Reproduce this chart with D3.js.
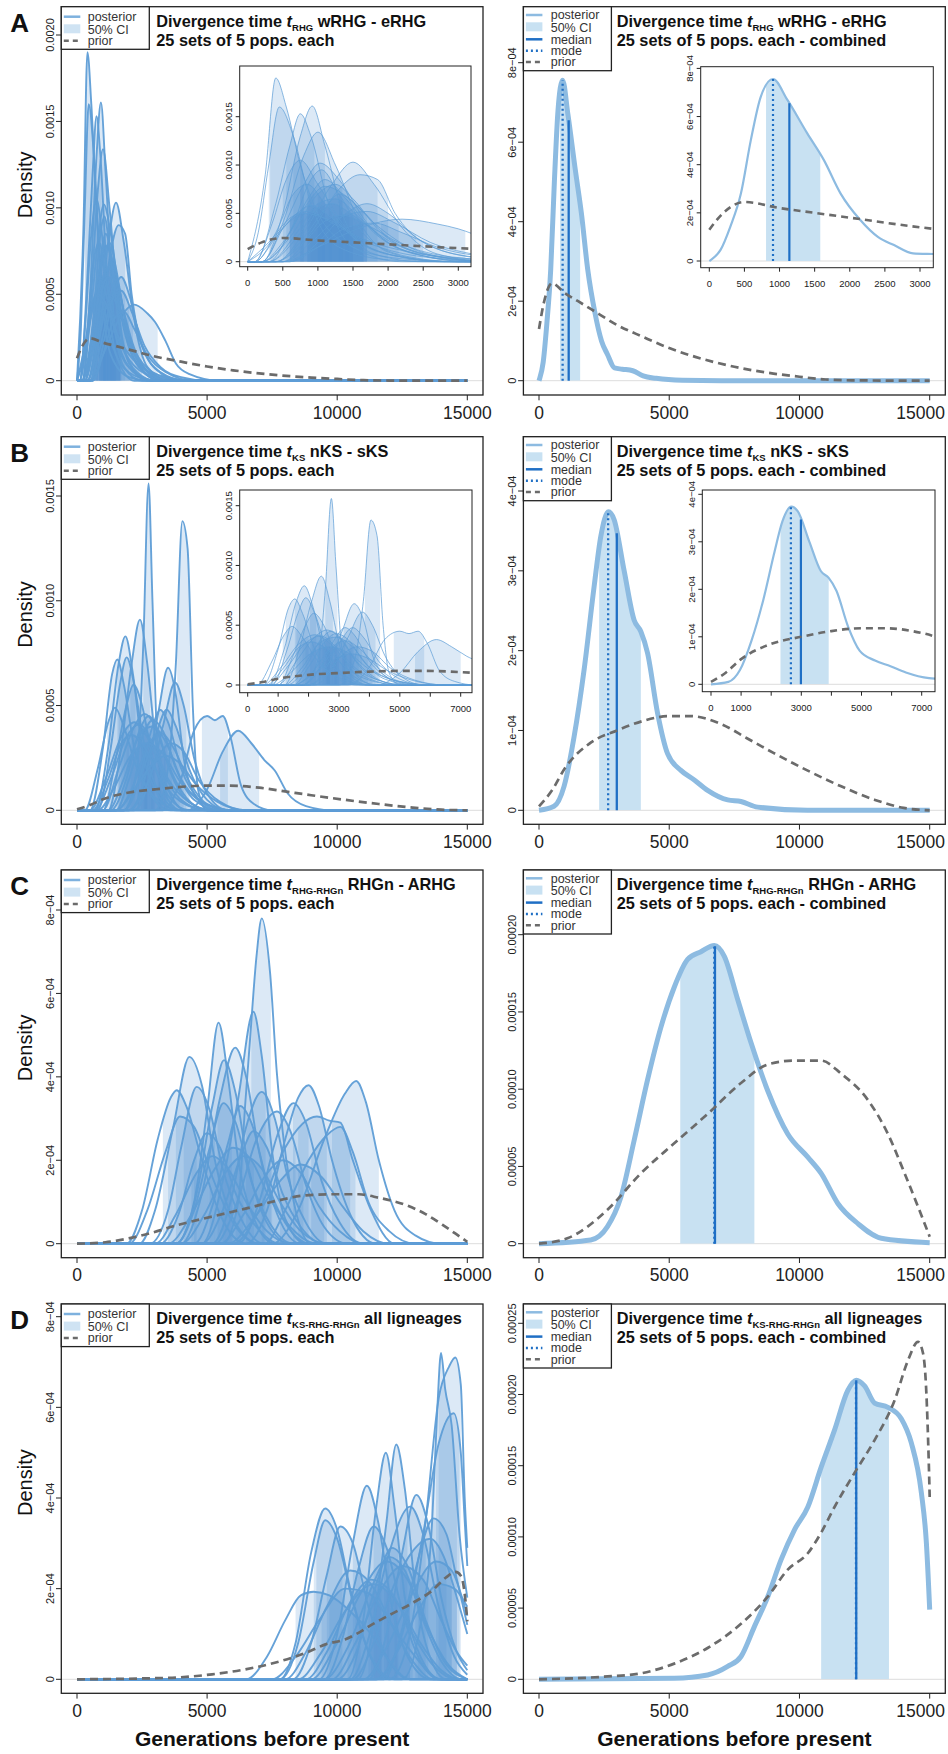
<!DOCTYPE html>
<html>
<head>
<meta charset="utf-8">
<script src="https://cdn.jsdelivr.net/npm/d3@7"></script>
<style>
body { margin: 0; background: #fff; }
text { font-family: 'Liberation Sans', Arial, Helvetica, sans-serif; }
</style>
</head>
<body>
<div id="svg"></div>
<script>
// all densities below are in units of 1e-4, x in generations before present
var xTicks = [0, 5000, 10000, 15000];

// 25 posterior curves per set: knots [x, density] and 50% CI [lo, hi]
var postA = [
  {k:[[0,0],[250,9],[400,19],[550,16],[750,10],[1000,5],[1500,1.5],[2200,0.3],[3000,0]], ci:[300,800]},
  {k:[[0,0],[150,3],[300,10],[450,16],[650,13],[900,6],[1300,1.5],[2000,0.2],[2800,0]], ci:[320,800]},
  {k:[[200,0],[500,5],[750,13],[920,16.1],[1100,12],[1400,4],[1800,0.8],[2500,0]], ci:[650,1100]},
  {k:[[100,0],[400,6],[600,12],[750,15.3],[900,13],[1150,6],[1500,1.5],[2200,0]], ci:[550,950]},
  {k:[[200,0],[500,4],[800,11],[1000,13.4],[1250,10],[1600,4],[2000,1],[2800,0]], ci:[750,1350]},
  {k:[[400,0],[800,3],[1200,8],[1500,10.3],[1800,8],[2200,3.5],[2700,0.8],[3500,0]], ci:[1150,1850]},
  {k:[[100,0],[350,4],[550,8.5],[750,10.5],[1000,8],[1400,3.5],[1900,1],[2800,0]], ci:[500,1100]},
  {k:[[200,0],[500,3.5],[800,8],[1030,10.2],[1300,8.5],[1700,4],[2300,1],[3200,0]], ci:[750,1450]},
  {k:[[500,0],[1000,1.5],[1600,3.5],[2200,4.4],[2700,3.9],[3000,3.4],[3400,2.3],[3800,1],[4300,0.4],[5500,0]], ci:[1900,3100]},
  {k:[[500,0],[900,3],[1300,7.5],[1600,9],[1850,8.5],[2100,5],[2500,2],[3200,0.5],[4200,0]], ci:[1300,2000]},
  {k:[[300,0],[600,3],[900,7],[1100,8.5],[1400,6.5],[1800,3],[2400,0.8],[3200,0]], ci:[850,1500]},
  {k:[[200,0],[500,2],[800,5.5],[1100,7.8],[1400,6.8],[1800,4],[2300,1.5],[3000,0.3],[4000,0]], ci:[850,1650]},
  {k:[[400,0],[800,2.5],[1100,5.5],[1300,7],[1600,5.5],[2000,2.5],[2600,0.7],[3500,0]], ci:[1050,1700]},
  {k:[[300,0],[700,3],[1000,6],[1250,6.5],[1600,4.5],[2100,1.5],[2800,0.3],[3600,0]], ci:[900,1700]},
  {k:[[100,0],[400,2.5],[700,5],[900,5.8],[1200,4.5],[1600,2],[2200,0.5],[3000,0]], ci:[600,1300]},
  {k:[[600,0],[1000,2],[1400,5],[1700,6],[2000,5],[2400,2.5],[3000,0.7],[4000,0]], ci:[1350,2150]},
  {k:[[0,0],[300,2],[600,4.5],[850,5.2],[1200,4],[1700,2],[2400,0.6],[3500,0]], ci:[600,1500]},
  {k:[[400,0],[800,2],[1100,4.2],[1350,4.8],[1700,3.8],[2200,1.8],[2900,0.5],[4000,0]], ci:[1000,1900]},
  {k:[[200,0],[600,2.5],[1000,7],[1250,8],[1500,6.5],[1900,3],[2500,0.8],[3500,0]], ci:[1000,1650]},
  {k:[[500,0],[900,2],[1300,4.5],[1700,5.2],[2100,4],[2600,2],[3200,0.8],[4000,0.2],[5000,0]], ci:[1300,2400]},
  {k:[[100,0],[400,3],[650,7],[850,8],[1100,6],[1500,2.5],[2100,0.6],[3000,0]], ci:[600,1200]},
  {k:[[300,0],[700,2.5],[1000,5.5],[1200,6],[1500,4.8],[2000,2.2],[2700,0.5],[3600,0]], ci:[950,1650]},
  {k:[[0,0],[200,1],[500,3.5],[800,5],[1100,4.5],[1600,2.5],[2300,1],[3200,0.3],[4500,0]], ci:[600,1700]},
  {k:[[600,0],[1000,1.5],[1400,3.5],[1800,4],[2200,3],[2700,1.5],[3400,0.5],[4500,0]], ci:[1400,2500]},
  {k:[[200,0],[600,3],[900,8.5],[1050,9.5],[1300,7],[1700,2.5],[2300,0.5],[3000,0]], ci:[850,1350]}
];

var postB = [
  {k:[[1800,0],[2300,2],[2550,8],[2750,15.6],[2900,10],[3100,3],[3500,0.5],[4000,0]], ci:[2550,2950]},
  {k:[[3000,0],[3500,2],[3800,7],[4050,13.8],[4250,12.5],[4450,5],[4650,1],[5000,0]], ci:[3850,4350]},
  {k:[[1200,0],[1700,3],[2100,7],[2420,9.1],[2700,7],[3000,3.5],[3500,1],[4200,0]], ci:[2050,2800]},
  {k:[[700,0],[1200,3],[1600,7],[1860,8.3],[2150,6.5],[2500,3],[3000,1],[3800,0]], ci:[1550,2250]},
  {k:[[500,0],[1000,3],[1350,6.5],[1550,7.2],[1800,6],[2200,3],[2800,0.8],[3600,0]], ci:[1250,2000]},
  {k:[[800,0],[1300,3],[1650,6],[1910,7.3],[2200,6],[2600,3],[3100,1],[4000,0]], ci:[1600,2400]},
  {k:[[1000,0],[1500,2.5],[1900,5],[2170,6],[2500,5],[2900,2.5],[3500,0.7],[4300,0]], ci:[1800,2700]},
  {k:[[2000,0],[2600,1.5],[3100,4.5],[3500,6.8],[3800,5.5],[4100,2.5],[4600,0.6],[5200,0]], ci:[3150,3850]},
  {k:[[2200,0],[2800,1.5],[3300,4],[3770,6.1],[4100,5],[4500,2.5],[5000,0.8],[5800,0]], ci:[3350,4200]},
  {k:[[300,0],[800,2],[1200,4.2],[1460,4.9],[1800,4],[2300,2],[3000,0.6],[4000,0]], ci:[1150,2100]},
  {k:[[1800,0],[2400,1.5],[3000,3.5],[3450,4.8],[3800,4],[4300,2],[5000,0.5],[5800,0]], ci:[2900,3950]},
  {k:[[3300,0],[4000,1.5],[4500,3.8],[5000,4.5],[5300,4.3],[5600,4.5],[5900,3.5],[6300,1.2],[6800,0.3],[7500,0]], ci:[4800,5800]},
  {k:[[4200,0],[5000,1],[5600,2.8],[6200,3.8],[6700,3.2],[7200,2.4],[7600,1.9],[8100,0.8],[8800,0.2],[9800,0]], ci:[5500,7000]},
  {k:[[1000,0],[1600,2],[2200,4],[2600,4.6],[3000,4],[3500,2.2],[4200,0.6],[5000,0]], ci:[2100,3200]},
  {k:[[1500,0],[2000,1.5],[2500,3.5],[2900,4.3],[3300,3.8],[3800,2],[4500,0.5],[5500,0]], ci:[2450,3450]},
  {k:[[500,0],[1100,1.5],[1700,3.5],[2200,4.2],[2700,3.5],[3300,1.8],[4000,0.5],[5000,0]], ci:[1700,2900]},
  {k:[[1200,0],[1800,1.5],[2400,3.6],[2900,4],[3400,3.3],[4000,1.5],[4800,0.4],[5800,0]], ci:[2300,3500]},
  {k:[[1500,0],[2100,1],[2700,3],[3200,3.7],[3700,3],[4300,1.4],[5000,0.3],[6000,0]], ci:[2600,3750]},
  {k:[[700,0],[1300,1.5],[1900,3.5],[2400,4.1],[2900,3.2],[3500,1.5],[4300,0.4],[5200,0]], ci:[1900,3000]},
  {k:[[2000,0],[2600,1],[3100,2.5],[3600,3.2],[4100,2.8],[4700,1.4],[5500,0.4],[6500,0]], ci:[3100,4300]},
  {k:[[1300,0],[1900,1.5],[2400,3.8],[2750,4.5],[3100,3.8],[3600,1.8],[4300,0.4],[5200,0]], ci:[2350,3250]},
  {k:[[800,0],[1400,1],[2000,2.5],[2700,3.2],[3300,2.7],[4000,1.3],[4800,0.4],[6000,0]], ci:[2000,3400]},
  {k:[[1800,0],[2400,1.5],[2900,4],[3200,4.8],[3500,4.2],[4000,2],[4700,0.5],[5500,0]], ci:[2850,3650]},
  {k:[[1500,0],[2200,1],[2900,2.2],[3400,2.6],[3900,2.3],[4600,1.2],[5400,0.4],[6500,0]], ci:[2800,4100]},
  {k:[[600,0],[1200,1.5],[1700,3.2],[2100,3.6],[2600,3],[3200,1.5],[4000,0.4],[5000,0]], ci:[1600,2700]}
];

var postC = [
  {k:[[5600,0],[6200,1],[6460,3.3],[6650,4.9],[6900,6.9],[7100,7.8],[7420,6.5],[7680,4.1],[7940,2.5],[8400,0.8],[9000,0]], ci:[6700,7450]},
  {k:[[4800,0],[5600,1.5],[6200,3.5],[6780,5.56],[7100,4.5],[7500,2.2],[8000,0.6],[8800,0]], ci:[6200,7250]},
  {k:[[3800,0],[4500,1],[5000,3.2],[5440,5.3],[5800,4],[6200,2],[6800,0.6],[7600,0]], ci:[5000,5950]},
  {k:[[4000,0],[4800,1.2],[5500,3.5],[6080,4.7],[6500,4],[7000,2.2],[7700,0.7],[8600,0]], ci:[5400,6700]},
  {k:[[2400,0],[3000,0.8],[3700,2.8],[4320,4.48],[4800,3.8],[5300,2],[6000,0.6],[7000,0]], ci:[3800,5000]},
  {k:[[3800,0],[4600,1.2],[5200,3.3],[5650,4.4],[6100,3.6],[6600,1.8],[7300,0.5],[8200,0]], ci:[5100,6200]},
  {k:[[7500,0],[8500,0.8],[9500,2.5],[10300,3.6],[10730,3.9],[11100,3.4],[11600,2],[12200,0.8],[13000,0.2],[14000,0]], ci:[9800,11600]},
  {k:[[6500,0],[7300,0.8],[8000,2.5],[8500,3.5],[8900,3.8],[9300,3.3],[9800,2],[10500,0.7],[11500,0]], ci:[8300,9600]},
  {k:[[1900,0],[2500,0.8],[3100,2.5],[3600,3.5],[3830,3.68],[4200,3.3],[4800,2],[5500,0.7],[6500,0]], ci:[3300,4600]},
  {k:[[2800,0],[3500,0.8],[4000,2.3],[4600,3.76],[5100,3.2],[5600,1.8],[6300,0.6],[7200,0]], ci:[4100,5300]},
  {k:[[5200,0],[5900,1],[6500,2.8],[7100,3.64],[7600,3],[8100,1.6],[8800,0.5],[9600,0]], ci:[6500,7700]},
  {k:[[6200,0],[7000,1],[7700,2.6],[8320,3.37],[8800,2.9],[9400,1.5],[10100,0.5],[11000,0]], ci:[7700,8900]},
  {k:[[6000,0],[7000,0.8],[8000,2.3],[9220,3.05],[9700,2.95],[10120,2.9],[10600,2],[11300,0.8],[12200,0]], ci:[8500,10500]},
  {k:[[2000,0],[2700,0.8],[3400,2.2],[3960,3.05],[4500,2.8],[5200,1.6],[6000,0.5],[7000,0]], ci:[3500,5000]},
  {k:[[3800,0],[4500,0.8],[5100,2.3],[5630,3.37],[6100,2.9],[6700,1.5],[7400,0.5],[8300,0]], ci:[5000,6400]},
  {k:[[5300,0],[6100,0.9],[6900,2.5],[7680,3.17],[8200,2.7],[8800,1.4],[9500,0.4],[10400,0]], ci:[7000,8400]},
  {k:[[4500,0],[5200,0.9],[5800,2.4],[6270,3.3],[6700,2.9],[7300,1.5],[8000,0.5],[9000,0]], ci:[5700,7000]},
  {k:[[3200,0],[3900,0.7],[4500,2],[4990,2.65],[5500,2.3],[6100,1.2],[6900,0.4],[7800,0]], ci:[4400,5700]},
  {k:[[4800,0],[5600,0.8],[6300,2.1],[6780,2.7],[7300,2.3],[7900,1.2],[8600,0.4],[9500,0]], ci:[6100,7500]},
  {k:[[7200,0],[8000,0.8],[8900,2],[9600,2.6],[10120,2.8],[10600,2.2],[11200,1],[12000,0.3],[13000,0]], ci:[9000,10700]},
  {k:[[4000,0],[4900,0.7],[5700,1.7],[6400,2.1],[7100,1.8],[7800,1],[8600,0.3],[9600,0]], ci:[5600,7200]},
  {k:[[5500,0],[6400,0.7],[7200,1.6],[7900,2.0],[8600,1.7],[9300,0.9],[10100,0.3],[11000,0]], ci:[7100,8700]},
  {k:[[3000,0],[3800,0.7],[4600,1.7],[5200,2.1],[5800,1.8],[6500,1],[7300,0.3],[8200,0]], ci:[4500,6000]},
  {k:[[5800,0],[6800,0.6],[7800,1.5],[8600,1.9],[9400,1.6],[10200,0.9],[11000,0.3],[12000,0]], ci:[7800,9500]},
  {k:[[3500,0],[4400,0.7],[5300,1.8],[6000,2.3],[6700,2],[7400,1.1],[8200,0.4],[9200,0]], ci:[5300,6800]}
];

var postD = [
  {k:[[12500,0],[13200,1.2],[13650,3.5],[13850,6],[13990,7.2],[14150,6.4],[14400,5.6],[14700,3.2],[15000,1.8]], ci:[13800,14600]},
  {k:[[12000,0],[12800,1],[13400,3.5],[13900,6.2],[14300,6.9],[14540,7.1],[14750,6.5],[14900,4],[15000,2.9]], ci:[13900,14750]},
  {k:[[11500,0],[12500,1],[13300,3.2],[13900,5.2],[14480,5.87],[14750,5],[14900,3.5],[15000,2.5]], ci:[13600,14700]},
  {k:[[10800,0],[11400,1.2],[11900,3.5],[12270,5.18],[12600,4.2],[13000,2],[13500,0.6],[14200,0]], ci:[11800,12700]},
  {k:[[10400,0],[11000,1.3],[11500,3.8],[11870,5.0],[12200,3.8],[12600,1.8],[13200,0.5],[14000,0]], ci:[11400,12350]},
  {k:[[9300,0],[10000,1],[10600,3],[11140,4.27],[11600,3.4],[12100,1.6],[12800,0.4],[13600,0]], ci:[10600,11700]},
  {k:[[11200,0],[11900,1],[12500,2.8],[13040,4.07],[13500,3.4],[14000,1.8],[14600,0.6],[15000,0.2]], ci:[12400,13600]},
  {k:[[7800,0],[8400,0.8],[9000,2.8],[9540,3.77],[10000,3.3],[10500,2],[11200,0.6],[12000,0]], ci:[9100,10200]},
  {k:[[7800,0],[8500,0.8],[9100,2.6],[9540,3.51],[10000,3.1],[10600,1.7],[11300,0.5],[12200,0]], ci:[9200,10300]},
  {k:[[8300,0],[9000,0.8],[9600,2.3],[10120,3.37],[10600,3],[11200,1.6],[11900,0.5],[12800,0]], ci:[9600,10900]},
  {k:[[10500,0],[11200,0.9],[11900,2.6],[12810,3.81],[13300,3.2],[13900,1.6],[14500,0.5],[15000,0.1]], ci:[11900,13400]},
  {k:[[9500,0],[10200,0.9],[10800,2.4],[11400,3.37],[11900,2.9],[12500,1.5],[13200,0.4],[14000,0]], ci:[10700,12000]},
  {k:[[11800,0],[12400,0.9],[13000,2.4],[13700,3.55],[14200,3.2],[14600,2.2],[15000,1.2]], ci:[13000,14400]},
  {k:[[6500,0],[7300,0.5],[8000,1.3],[8600,1.85],[9090,1.93],[9700,1.85],[10500,1.5],[11300,1.0],[12000,0.4],[12800,0]], ci:[8400,10900]},
  {k:[[8500,0],[9400,0.6],[10300,1.5],[11400,2.1],[12300,1.7],[13200,0.8],[14000,0.2],[14800,0]], ci:[10300,12400]},
  {k:[[9000,0],[9900,0.7],[10900,1.9],[11900,2.6],[12700,2.2],[13500,1.1],[14300,0.3],[15000,0]], ci:[10900,12800]},
  {k:[[10600,0],[11400,0.8],[12200,2.1],[13580,3.1],[14100,2.7],[14600,1.8],[15000,1.0]], ci:[12200,14200]},
  {k:[[8000,0],[8800,0.6],[9600,1.6],[10500,2.4],[11300,2.1],[12100,1.2],[12900,0.4],[13700,0]], ci:[9700,11500]},
  {k:[[9800,0],[10700,0.8],[11600,1.9],[12500,2.5],[13300,2.2],[14000,1.3],[14600,0.6],[15000,0.3]], ci:[11500,13500]},
  {k:[[7500,0],[8400,0.5],[9300,1.3],[10300,2.0],[11200,1.9],[12100,1.2],[13000,0.5],[13900,0]], ci:[9400,11700]},
  {k:[[11000,0],[11900,0.7],[12800,1.8],[13800,2.6],[14400,2.4],[14800,1.8],[15000,1.4]], ci:[12700,14400]},
  {k:[[10000,0],[10800,0.7],[11500,2.1],[12100,2.9],[12700,2.5],[13400,1.3],[14100,0.4],[15000,0]], ci:[11300,12900]},
  {k:[[8800,0],[9600,0.6],[10500,1.7],[11300,2.2],[12100,1.9],[12900,1.0],[13700,0.3],[14600,0]], ci:[10400,12300]},
  {k:[[11500,0],[12300,0.6],[13100,1.5],[13900,2.1],[14500,2.0],[15000,1.6]], ci:[13100,14600]},
  {k:[[9500,0],[10400,0.7],[11300,2.0],[12000,2.7],[12600,2.4],[13300,1.3],[14000,0.4],[14800,0]], ci:[11200,12800]}
];

// priors
var priorA = [[0,1.3],[200,2.0],[500,2.45],[1000,2.2],[1500,2.0],[2000,1.8],[3000,1.4],[4000,1.1],[5000,0.82],[6000,0.6],[7500,0.35],[9000,0.18],[10000,0.1],[11000,0.03],[12000,0.01],[15000,0]];
var priorB = [[0,0.05],[500,0.25],[1000,0.53],[2000,0.85],[3000,1.0],[4000,1.12],[5000,1.18],[5800,1.18],[7000,1.08],[8000,0.9],[9000,0.72],[10300,0.5],[11600,0.3],[12900,0.13],[14000,0.03],[15000,0]];
var priorC = [[0,0],[1090,0.035],[2628,0.22],[3910,0.455],[5192,0.65],[6474,0.84],[7756,1.04],[8782,1.16],[9808,1.185],[10833,1.185],[11603,1.10],[12628,0.93],[13397,0.71],[14038,0.455],[14551,0.24],[15000,0.045]];
var priorD = [[0,0],[2628,0.02],[3910,0.042],[5192,0.11],[6474,0.22],[7756,0.39],[8782,0.58],[9551,0.77],[10321,0.885],[10833,1.03],[11346,1.21],[12115,1.45],[12885,1.68],[13654,1.96],[14167,2.24],[14551,2.37],[14744,2.29],[14872,2.01],[14962,1.54],[15000,1.28]];

// combined posteriors
var combA = [[0,0],[20,0.04],[160,0.46],[300,1.43],[450,2.8],[590,5.0],[730,6.8],[907,7.56],[1110,6.7],[1395,5.3],[1630,4.2],[1870,2.8],[2150,1.7],[2400,1.0],[2630,0.66],[2900,0.32],[3200,0.29],[3600,0.25],[4000,0.12],[4500,0.06],[5500,0.01],[7000,0],[15000,0]];
var combB = [[0,0],[577,0.05],[962,0.3],[1346,0.92],[1731,1.76],[2115,2.8],[2372,3.43],[2667,3.74],[2885,3.64],[3269,3.0],[3654,2.38],[3910,2.24],[4167,1.97],[4551,1.22],[4936,0.71],[5449,0.5],[5962,0.38],[6474,0.25],[7244,0.13],[7756,0.11],[8397,0.04],[10300,0],[15000,0]];
var combC = [[0,0],[1987,0.024],[2628,0.11],[3141,0.30],[3654,0.67],[4167,1.06],[4679,1.40],[5192,1.66],[5705,1.84],[6218,1.89],[6731,1.93],[7115,1.86],[7628,1.58],[8141,1.30],[8782,0.99],[9551,0.71],[10321,0.56],[10833,0.455],[11474,0.26],[12244,0.13],[13141,0.035],[15000,0.006]];
var combD = [[0,0],[5192,0.007],[6474,0.03],[7244,0.09],[7756,0.16],[8269,0.37],[8782,0.58],[9295,0.84],[9808,1.05],[10321,1.21],[10833,1.49],[11346,1.75],[11859,2.03],[12182,2.10],[12500,2.06],[12885,1.94],[13397,1.91],[13910,1.83],[14295,1.66],[14680,1.31],[14872,0.96],[15000,0.49]];
// [ciLow, ciHigh, median, mode]
var statsA = [808, 1580, 1140, 907];
var statsB = [2308, 3910, 2987, 2654];
var statsC = [5423, 8269, 6756, 6731];
var statsD = [10833, 13436, 12180, 12170];

// y ticks (value in 1e-4, label)
var yTicksL = {
  A: [[0,'0'],[5,'0.0005'],[10,'0.0010'],[15,'0.0015'],[20,'0.0020']],
  B: [[0,'0'],[5,'0.0005'],[10,'0.0010'],[15,'0.0015']],
  C: [[0,'0'],[2,'2e\u221204'],[4,'4e\u221204'],[6,'6e\u221204'],[8,'8e\u221204']],
  D: [[0,'0'],[2,'2e\u221204'],[4,'4e\u221204'],[6,'6e\u221204'],[8,'8e\u221204']]
};
var yTicksR = {
  A: [[0,'0'],[2,'2e\u221204'],[4,'4e\u221204'],[6,'6e\u221204'],[8,'8e\u221204']],
  B: [[0,'0'],[1,'1e\u221204'],[2,'2e\u221204'],[3,'3e\u221204'],[4,'4e\u221204']],
  C: [[0,'0'],[0.5,'0.00005'],[1,'0.00010'],[1.5,'0.00015'],[2,'0.00020']],
  D: [[0,'0'],[0.5,'0.00005'],[1,'0.00010'],[1.5,'0.00015'],[2,'0.00020'],[2.5,'0.00025']]
};
var insetXTicksA = [[0,'0'],[500,'500'],[1000,'1000'],[1500,'1500'],[2000,'2000'],[2500,'2500'],[3000,'3000']];
var insetXTicksB = [[0,'0'],[1000,'1000'],[2000,''],[3000,'3000'],[4000,''],[5000,'5000'],[6000,''],[7000,'7000']];

var rows = [
  {id:'A', sub:'RHG', tail:'wRHG - eRHG', post:postA, prior:priorA, comb:combA, st:statsA},
  {id:'B', sub:'KS', tail:'nKS - sKS', post:postB, prior:priorB, comb:combB, st:statsB},
  {id:'C', sub:'RHG-RHGn', tail:'RHGn - ARHG', post:postC, prior:priorC, comb:combC, st:statsC},
  {id:'D', sub:'KS-RHG-RHGn', tail:'all ligneages', post:postD, prior:priorD, comb:combD, st:statsD}
];

// layout (pixels)
var colL = {boxL:61.3, boxR:483, x0:77, x1:467.3};
var colR = {boxL:523.4, boxR:945.3, x0:539, x1:929.7};
var geom = {
  A: {top:6.7, bot:395, zero:380.7, yl:[20,35], yr:[8,62.7]},
  B: {top:436.7, bot:824.3, zero:810.3, yl:[15,496], yr:[4,491]},
  C: {top:870, bot:1257.7, zero:1243.7, yl:[8,910], yr:[2,934.7]},
  D: {top:1304, bot:1693.3, zero:1679.3, yl:[8,1316.7], yr:[2.5,1323.3]}
};
var insets = {
  A: {left:{box:[239.7,66,471,266.7], x:[3000,247.7,458.3], y:[15,261.7,116.7], ticks:insetXTicksA},
      right:{box:[700.7,66.7,933.3,267.7], x:[3000,709.3,920], y:[8,261,68.4], ticks:insetXTicksA}},
  B: {left:{box:[239.7,490,472,692.7], x:[7000,247.7,460.7], y:[15,685,505.7], ticks:insetXTicksB},
      right:{box:[702.3,490,935,691.7], x:[7000,711,921.7], y:[4,684.3,494.3], ticks:insetXTicksB}}
};

var col = {line:'#5e9dd6', fill:'#4f93d2', comb:'#8dbbe1', combFill:'#c8e1f2', med:'#1f6fc5',
           prior:'#6b6b6b', ink:'#222', zero:'#dddddd'};

var svg = d3.select('#svg').append('svg').attr('width', 948).attr('height', 1754);
svg.append('rect').attr('width', 948).attr('height', 1754).attr('fill', '#fff');
var defs = svg.append('defs');
var nClip = 0;
function clip(x0, y0, x1, y1) {
  var id = 'cl' + (nClip++);
  defs.append('clipPath').attr('id', id).append('rect')
    .attr('x', x0).attr('y', y0).attr('width', Math.max(0, x1 - x0)).attr('height', Math.max(0, y1 - y0));
  return 'url(#' + id + ')';
}
function lineGen(x, y) { return d3.line().x(function(d){return x(d[0]);}).y(function(d){return y(d[1]);}).curve(d3.curveMonotoneX); }
function areaGen(x, y) { return d3.area().x(function(d){return x(d[0]);}).y0(y(0)).y1(function(d){return y(d[1]);}).curve(d3.curveMonotoneX); }
function padded(k) {
  var p = k.slice();
  if (p[0][0] > 0) p.unshift([0, 0]);
  if (p[p.length - 1][0] < 15000) p.push([15000, 0]);
  return p;
}

function drawSet(g, curves, x, y, lw, lo) {
  var a = areaGen(x, y), l = lineGen(x, y);
  curves.forEach(function(c) {
    g.append('path').attr('d', a(padded(c.k))).attr('fill', col.fill).attr('fill-opacity', 0.2)
      .attr('clip-path', clip(x(c.ci[0]), 0, x(c.ci[1]), y(0)));
  });
  curves.forEach(function(c) {
    g.append('path').attr('d', l(padded(c.k))).attr('fill', 'none')
      .attr('stroke', col.line).attr('stroke-width', lw).attr('stroke-opacity', lo);
  });
}

function drawPrior(g, prior, x, y, lw, dash) {
  g.append('path').attr('d', lineGen(x, y)(prior)).attr('fill', 'none')
    .attr('stroke', col.prior).attr('stroke-width', lw).attr('stroke-dasharray', dash);
}

function drawComb(g, r, x, y, lw, mlw) {
  var st = r.st;
  g.append('path').attr('d', areaGen(x, y)(r.comb)).attr('fill', col.combFill)
    .attr('clip-path', clip(x(st[0]), 0, x(st[1]), y(0)));
  g.append('path').attr('d', lineGen(x, y)(r.comb)).attr('fill', 'none')
    .attr('stroke', col.comb).attr('stroke-width', lw).attr('stroke-linejoin', 'round');
  var f = d3.scaleLinear().domain(r.comb.map(function(d){return d[0];})).range(r.comb.map(function(d){return d[1];}));
  g.append('line').attr('x1', x(st[2])).attr('x2', x(st[2])).attr('y1', y(0)).attr('y2', y(f(st[2])))
    .attr('stroke', col.med).attr('stroke-width', mlw);
  g.append('line').attr('x1', x(st[3])).attr('x2', x(st[3])).attr('y1', y(0)).attr('y2', y(f(st[3])))
    .attr('stroke', col.med).attr('stroke-width', mlw).attr('stroke-dasharray', '2,3');
}

function zeroLine(g, x0, x1, yz) {
  g.append('line').attr('x1', x0).attr('x2', x1).attr('y1', yz).attr('y2', yz)
    .attr('stroke', col.zero).attr('stroke-width', 1);
}

function yAxis(g, left, y, ticks, fs, tl, off) {
  ticks.forEach(function(t) {
    var yy = y(t[0]);
    g.append('line').attr('x1', left).attr('x2', left - tl).attr('y1', yy).attr('y2', yy)
      .attr('stroke', col.ink).attr('stroke-width', 1);
    g.append('text').attr('transform', 'translate(' + (left - off) + ',' + yy + ') rotate(-90)')
      .attr('text-anchor', 'middle').attr('font-size', fs).attr('fill', col.ink).text(t[1]);
  });
}
function xAxis(g, bottom, x, ticks, fs, tl, off) {
  ticks.forEach(function(t) {
    var xx = x(t[0]);
    g.append('line').attr('x1', xx).attr('x2', xx).attr('y1', bottom).attr('y2', bottom + tl)
      .attr('stroke', col.ink).attr('stroke-width', 1);
    if (t[1]) {
      var tx = g.append('text').attr('x', xx).attr('y', bottom + off)
        .attr('text-anchor', 'middle').attr('font-size', fs).attr('fill', col.ink).text(t[1]);
      var w = tx.node().getComputedTextLength();
      if (xx + w / 2 > 945) tx.attr('x', 945 - w / 2);
    }
  });
}

function title(g, x, top, r, combined) {
  var t = g.append('text').attr('x', x).attr('y', top + 20).attr('font-size', 16.3)
    .attr('font-weight', 'bold').attr('fill', '#111');
  t.append('tspan').text('Divergence time ');
  t.append('tspan').attr('font-style', 'italic').text('t');
  t.append('tspan').attr('font-size', 9.5).attr('dy', 4).text(r.sub);
  t.append('tspan').attr('dy', -4).text(' ' + r.tail);
  g.append('text').attr('x', x).attr('y', top + 39.3).attr('font-size', 16.3)
    .attr('font-weight', 'bold').attr('fill', '#111')
    .text('25 sets of 5 pops. each' + (combined ? ' - combined' : ''));
}

function legend(g, left, top, combined) {
  var h = combined ? 64 : 42.6;
  g.append('rect').attr('x', left).attr('y', top).attr('width', 88).attr('height', h)
    .attr('fill', '#fff').attr('stroke', col.ink).attr('stroke-width', 1.3);
  var items = combined
    ? [['posterior','line'],['50% CI','rect'],['median','med'],['mode','mode'],['prior','prior']]
    : [['posterior','line'],['50% CI','rect'],['prior','prior']];
  var ys = combined ? [8.3, 20.6, 32.6, 44, 55.3] : [10, 22.6, 34];
  var tx = combined ? 27.3 : 26.4;
  items.forEach(function(it, i) {
    var yy = top + ys[i], x0 = left + 2.5, x1 = left + 19;
    if (it[1] === 'rect') {
      g.append('rect').attr('x', x0).attr('y', yy - 5).attr('width', x1 - x0).attr('height', 9)
        .attr('fill', combined ? col.combFill : '#cfe3f3');
    } else {
      var ln = g.append('line').attr('x1', x0).attr('x2', x1).attr('y1', yy).attr('y2', yy).attr('stroke-width', 2.5);
      if (it[1] === 'line') ln.attr('stroke', combined ? col.comb : '#7eb1de');
      if (it[1] === 'med') ln.attr('stroke', col.med);
      if (it[1] === 'mode') ln.attr('stroke', col.med).attr('stroke-dasharray', '2,3');
      if (it[1] === 'prior') ln.attr('stroke', col.prior).attr('stroke-dasharray', '5,4');
    }
    g.append('text').attr('x', left + tx).attr('y', yy + 4.3).attr('font-size', 12.5)
      .attr('fill', '#333').text(it[0]);
  });
}

function inset(g, ig, r, combined) {
  var b = ig.box;
  var x = d3.scaleLinear().domain([0, ig.x[0]]).range([ig.x[1], ig.x[2]]);
  var y = d3.scaleLinear().domain([0, ig.y[0]]).range([ig.y[1], ig.y[2]]);
  g.append('rect').attr('x', b[0]).attr('y', b[1]).attr('width', b[2] - b[0]).attr('height', b[3] - b[1]).attr('fill', '#fff');
  var c = g.append('g').attr('clip-path', clip(b[0], b[1], b[2], b[3]));
  zeroLine(c, b[0], b[2], y(0));
  if (combined) {
    drawComb(c, r, x, y, 2.2, 2.2);
  } else {
    drawSet(c, r.post, x, y, 0.9, 0.8);
  }
  drawPrior(c, r.prior, x, y, 2.6, '7,5');
  g.append('rect').attr('x', b[0]).attr('y', b[1]).attr('width', b[2] - b[0]).attr('height', b[3] - b[1])
    .attr('fill', 'none').attr('stroke', col.ink).attr('stroke-width', 1);
  var yt = (combined ? yTicksR[r.id] : yTicksL[r.id]).filter(function(t){return t[0] <= ig.y[0];});
  yAxis(g, b[0], y, yt, 9.5, 4, 7.3);
  xAxis(g, b[3], x, ig.ticks, 9.5, 4, 19.4);
}

rows.forEach(function(r) {
  var gm = geom[r.id];
  [colL, colR].forEach(function(cl, ci) {
    var combined = ci === 1;
    var x = d3.scaleLinear().domain([0, 15000]).range([cl.x0, cl.x1]);
    var yr = combined ? gm.yr : gm.yl;
    var y = d3.scaleLinear().domain([0, yr[0]]).range([gm.zero, yr[1]]);
    var g = svg.append('g');
    var c = g.append('g').attr('clip-path', clip(cl.boxL, gm.top, cl.boxR, gm.bot));
    zeroLine(c, cl.boxL, cl.boxR, gm.zero);
    if (combined) drawComb(c, r, x, y, 5, 2.3);
    else drawSet(c, r.post, x, y, 1.9, 0.95);
    drawPrior(c, r.prior, x, y, 2.7, '8,5');

    if (insets[r.id]) inset(g, insets[r.id][combined ? 'right' : 'left'], r, combined);

    g.append('rect').attr('x', cl.boxL).attr('y', gm.top).attr('width', cl.boxR - cl.boxL)
      .attr('height', gm.bot - gm.top).attr('fill', 'none').attr('stroke', col.ink).attr('stroke-width', 1.3);
    yAxis(g, cl.boxL, y, combined ? yTicksR[r.id] : yTicksL[r.id], 11, 5.3, 7.4);
    xAxis(g, gm.bot, x, xTicks.map(function(v){return [v, String(v)];}), 17.5, 5.3, 23.5);
    legend(g, cl.boxL, gm.top, combined);
    title(g, cl.boxL + (combined ? 93.3 : 95), gm.top, r, combined);

    if (!combined) {
      g.append('text').attr('transform', 'translate(32,' + ((gm.top + gm.bot) / 2 - 16) + ') rotate(-90)')
        .attr('text-anchor', 'middle').attr('font-size', 20).attr('fill', '#111').text('Density');
      g.append('text').attr('x', 19.7).attr('y', gm.top + 25).attr('text-anchor', 'middle')
        .attr('font-size', 26).attr('font-weight', 'bold').attr('fill', '#111').text(r.id);
    }
    if (r.id === 'D') {
      g.append('text').attr('x', (cl.boxL + cl.boxR) / 2).attr('y', 1746).attr('text-anchor', 'middle')
        .attr('font-size', 21).attr('font-weight', 'bold').attr('fill', '#111').text('Generations before present');
    }
  });
});
</script>
</body>
</html>
